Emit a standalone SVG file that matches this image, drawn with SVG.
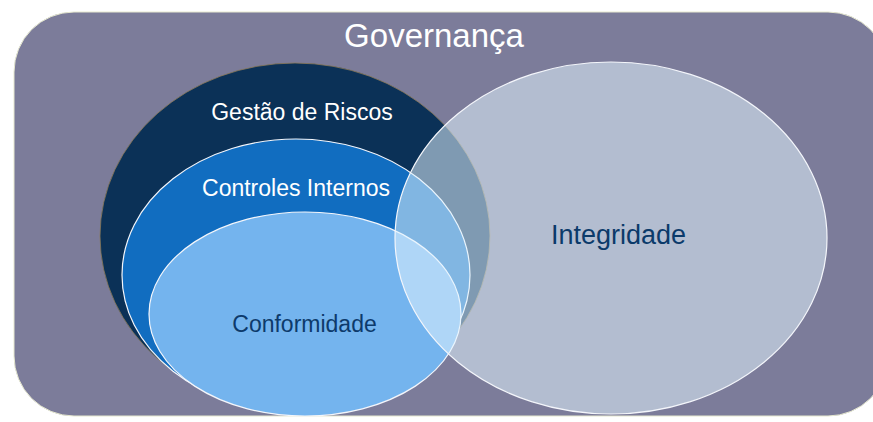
<svg xmlns="http://www.w3.org/2000/svg" width="873" height="422" viewBox="0 0 873 422">
<style>
.t{font-family:"Liberation Sans",Arial,sans-serif;text-anchor:middle}
.w{fill:#ffffff}
.d{fill:#0d3a6b}
.ring{stroke:#f4f6fb;stroke-width:1.2}
</style>
<rect x="0" y="0" width="873" height="422" fill="#ffffff"/>
<g id="governanca">
<rect x="14" y="12" width="874" height="404" rx="60" ry="60" fill="#7c7c9a" stroke="#e6e8cf" stroke-width="1"/>
<text class="t w" x="434" y="47" font-size="33">Governança</text>
</g>
<g id="gestao-de-riscos">
<ellipse cx="295" cy="236" rx="195" ry="173" fill="#0b3157" stroke="#8c7a58" stroke-width="0.8"/>
</g>
<g id="controles-internos">
<ellipse cx="296" cy="275" rx="174" ry="136" fill="#116dc0" class="ring"/>
</g>
<g id="conformidade">
<ellipse cx="305" cy="314" rx="156" ry="102" fill="#74b4ee" class="ring"/>
</g>
<g id="integridade">
<ellipse cx="611" cy="238" rx="216" ry="176" fill="#e2f4ff" fill-opacity="0.54" class="ring"/>
</g>
<g id="labels">
<text class="t w" x="302" y="120" font-size="23">Gestão de Riscos</text>
<text class="t w" x="296" y="196" font-size="23">Controles Internos</text>
<text class="t d" x="304.5" y="332" font-size="23">Conformidade</text>
<text class="t" x="618.5" y="244" font-size="27" fill="#0b3a6a">Integridade</text>
</g>
<g id="connectors"></g>
</svg>
